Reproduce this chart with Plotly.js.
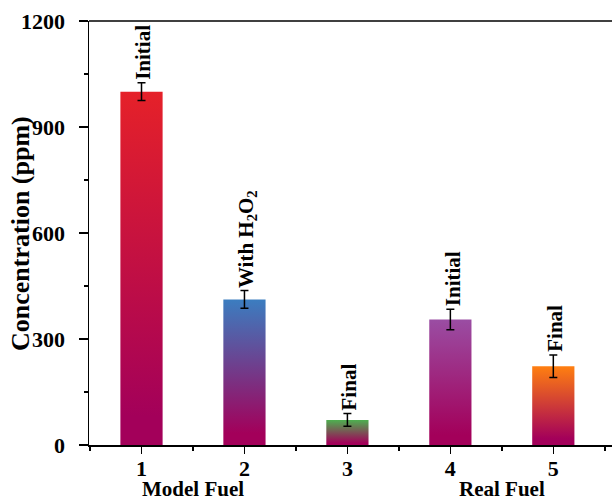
<!DOCTYPE html>
<html><head><meta charset="utf-8">
<script src="https://cdn.plot.ly/plotly-3.0.1.min.js"></script>
<style>html,body{margin:0;padding:0;background:#fff}</style>
</head><body>
<div id="chart" style="width:612px;height:500px"></div>
<script>
const categories = [1, 2, 3, 4, 5];
const values = [1000, 412, 71, 355, 223];
const errors = [25, 25, 18, 29, 32];
const barLabels = ["Initial", "With H<sub>2</sub>O<sub>2</sub>", "Final", "Initial", "Final"];
const topColors = ["#E52129", "#3B7DC0", "#4DB04F", "#9A4DA3", "#FF7F10"];
const groupLabels = ["Model Fuel", "Real Fuel"];
const groupPositions = [1.5, 4.5];
const yTicks = [0, 300, 600, 900, 1200];
const yTitle = "Concentration (ppm)";

const bottomColor = "#A3005A";
const barWidth = 0.41;
const fontFam = "Liberation Serif, Times New Roman, serif";

const traces = [];
categories.forEach((c, i) => {
  const v = values[i];
  traces.push({
    type: 'scatter', mode: 'lines',
    x: [c - barWidth/2, c - barWidth/2, c + barWidth/2, c + barWidth/2, c - barWidth/2],
    y: [0, v, v, 0, 0],
    fill: 'toself',
    line: {width: 0, color: 'rgba(0,0,0,0)'},
    fillgradient: {type: 'vertical', start: 0, stop: v,
      colorscale: [[0, bottomColor], [0.08, bottomColor], [1, topColors[i]]]},
    hoverinfo: 'skip', showlegend: false
  });
});
traces.push({
  type: 'scatter', mode: 'markers', x: categories, y: values,
  marker: {size: 1, opacity: 0},
  error_y: {type: 'data', array: errors, visible: true, color: '#000', thickness: 1.5, width: 4},
  showlegend: false, hoverinfo: 'skip'
});

const annotations = categories.map((c, i) => ({
  x: c, y: values[i] + errors[i], xref: 'x', yref: 'y',
  text: barLabels[i], textangle: -90, showarrow: false,
  xanchor: 'center', yanchor: 'bottom', yshift: 1, xshift: 2,
  font: {family: fontFam, size: 21, color: '#000', weight: 'bold'}
}));
groupLabels.forEach((g, i) => annotations.push({
  x: groupPositions[i], y: 0, xref: 'x', yref: 'paper',
  text: g, showarrow: false, xanchor: 'center', yanchor: 'bottom', yshift: -58,
  font: {family: fontFam, size: 21, color: '#000', weight: 'bold'}
}));
annotations.push({
  x: -0.132, y: 0.5, xref: 'paper', yref: 'paper',
  text: yTitle, textangle: -90, showarrow: false,
  xanchor: 'center', yanchor: 'middle', yshift: 0,
  font: {family: fontFam, size: 26, color: '#000', weight: 'bold'}
});

const layout = {
  width: 612, height: 500,
  margin: {l: 89, r: 0, t: 21, b: 55},
  paper_bgcolor: '#fff', plot_bgcolor: '#fff',
  showlegend: false,
  xaxis: {
    range: [0.49, 5.57], tickvals: categories, ticktext: categories.map(String),
    showgrid: false, zeroline: false, showline: true, linecolor: '#000', linewidth: 1.5,
    ticks: 'outside', ticklen: 7, tickwidth: 1.5, tickcolor: '#000', ticklabelstandoff: -4,
    minor: {tickvals: [0.5, 1.5, 2.5, 3.5, 4.5, 5.5], ticks: 'outside', ticklen: 4, tickwidth: 1.5, tickcolor: '#000'},
    tickfont: {family: fontFam, size: 22, color: '#000', weight: 'bold'}
  },
  yaxis: {
    range: [0, 1200], tickvals: yTicks, ticktext: yTicks.map(String),
    showgrid: false, zeroline: false, showline: true, linecolor: '#000', linewidth: 1.5,
    ticks: 'outside', ticklen: 9, tickwidth: 1.5, tickcolor: '#000', ticklabelstandoff: 9,
    minor: {tickvals: [150, 450, 750, 1050], ticks: 'outside', ticklen: 4, tickwidth: 1.5, tickcolor: '#000'},
    tickfont: {family: fontFam, size: 22, color: '#000', weight: 'bold'}
  },
  shapes: [{type: 'line', xref: 'paper', yref: 'paper', x0: 0, x1: 1, y0: 1, y1: 1,
    line: {color: '#000', width: 1.5}}],
  annotations: annotations
};

Plotly.newPlot('chart', traces, layout, {displayModeBar: false, staticPlot: true});
</script>
</body></html>
